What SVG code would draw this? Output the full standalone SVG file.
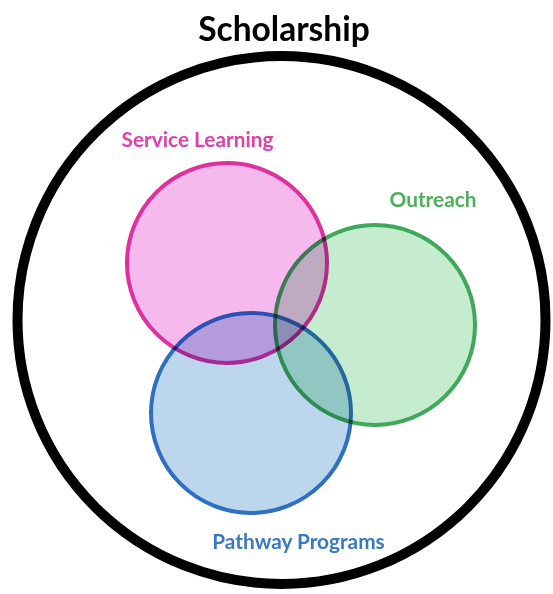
<svg xmlns="http://www.w3.org/2000/svg" width="553" height="594" viewBox="0 0 553 594">
  <style>
    text { font-family: "Lato", "Open Sans", "Liberation Sans", sans-serif; font-weight: bold; text-anchor: middle; }
    .title { font-size: 33.5px; fill: #000; }
    .label { font-size: 20.8px; }
    .set { stroke-width: 4; mix-blend-mode: multiply; }
  </style>
  <rect width="553" height="594" fill="#ffffff"/>
  <g id="scholarship">
    <circle cx="281.5" cy="320" r="264" fill="none" stroke="#000" stroke-width="10"/>
    <text class="title" x="284" y="41">Scholarship</text>
  </g>
  <g id="service-learning">
    <circle class="set" cx="227" cy="263" r="100" fill="#f5b9ee" stroke="#e0309e"/>
    <text class="label" x="197.5" y="147" fill="#e040a8">Service Learning</text>
  </g>
  <g id="outreach">
    <circle class="set" cx="375" cy="325" r="100" fill="#c6ecd0" stroke="#3fa85a"/>
    <text class="label" x="433" y="207" fill="#4caf5a">Outreach</text>
  </g>
  <g id="pathway-programs">
    <circle class="set" cx="251" cy="413" r="100" fill="#bcd6ee" stroke="#2e6fc0"/>
    <text class="label" x="298.5" y="549" fill="#3a78c4">Pathway Programs</text>
  </g>
</svg>
